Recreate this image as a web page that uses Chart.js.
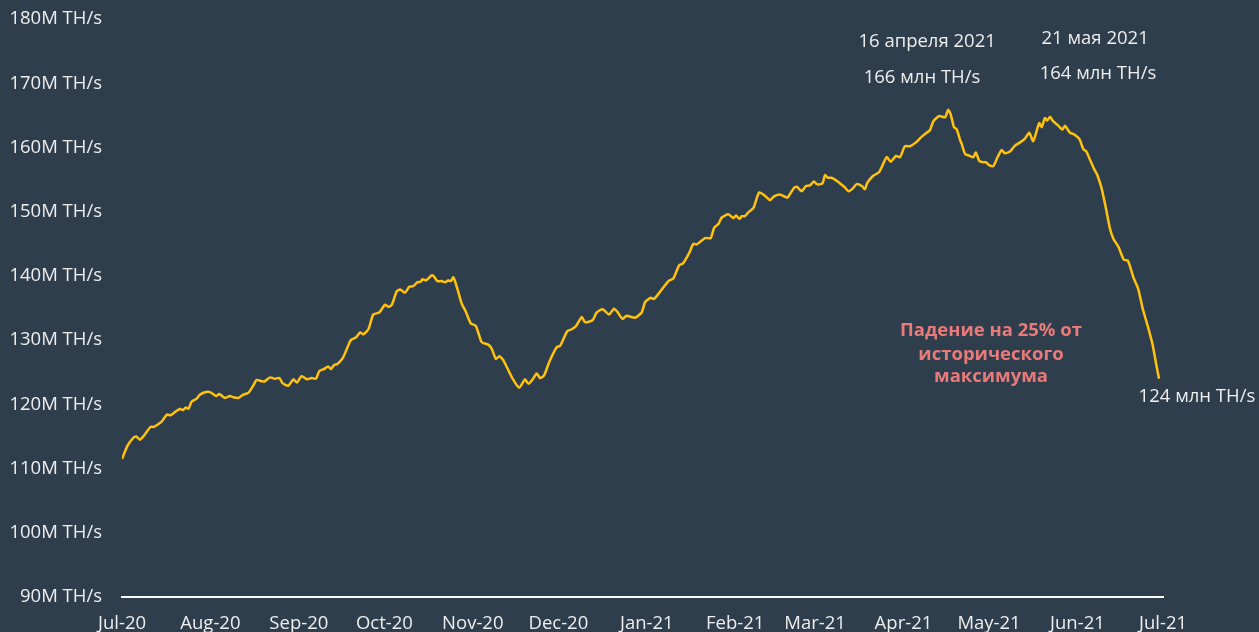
<!DOCTYPE html>
<html>
<head>
<meta charset="utf-8">
<script src="https://cdn.jsdelivr.net/npm/chart.js@4.4.1/dist/chart.umd.min.js"></script>
<style>
  html, body { margin: 0; padding: 0; background: #2f3e4c; overflow: hidden; }
  #clip { width: 1259px; height: 632px; position: relative; overflow: hidden; }
  #wrap { width: 1259px; height: 644px; position: absolute; left: 0; top: -12px; }
</style>
</head>
<body>
<div id="clip"><div id="wrap"><canvas id="c"></canvas></div></div>
<script>
// Days since 1 Jul 2020 (row-aligned with hashrate below)
const days = [
  0,2,4,5,6.3,8,10,11.2,13.9,15.7,
  17,18.6,20.3,21.3,22.4,23.3,24.4,26.2,27.3,29.1,
  30.9,33,34.1,36.1,37.9,39,40.8,42.5,44.3,46,
  47.2,49,50.1,51.9,53.6,55.2,56.3,58.3,60.1,61.3,
  63,64.8,66.5,68,69.2,70.8,72.3,73.3,74.3,75.5,
  77.4,78.8,80.2,82,83.5,84.6,86.4,88.1,90.2,92.2,
  93.4,94.6,96.3,97.5,99.2,100.7,102.1,103.5,104.7,105.4,
  106.6,108.6,109.2,110.6,112.1,113.3,114.4,115.3,116.2,117.6,
  119.1,120.6,122.3,124.1,126.1,128.4,129.6,131.1,132.3,133.7,
  136.6,139.3,141.3,142.5,144,145.4,146.6,148,149.8,152.4,
  153.6,156.1,157.7,159.2,161.2,162.3,165,166.4,168.5,170.8,
  172.5,173.7,175.5,176.9,179.9,182.2,183.4,185.4,186.5,188.6,
  191.6,193.3,195.4,196.6,198.9,200.3,201.5,204.4,206.4,207.6,
  209.1,210.3,212.6,214.4,215.3,216.5,217.3,218.4,219.6,221.4,
  223.4,225.4,227.2,228.6,230.5,231.7,233.3,235.6,236.6,238.3,
  239.8,241.2,242.6,243.6,245,245.7,246.5,247.4,248.8,250,
  251.5,253.2,254.7,256.2,257.6,259.4,260.5,261.3,263.4,265.5,
  268.1,269.5,271.4,272.8,274.5,276.3,278.4,280.4,282.1,283.3,
  284.5,286.6,288.6,289.7,290.6,291.7,292.7,293.9,294.4,295.6,
  297.3,298.5,299.4,300.6,302.2,303,303.9,305.5,306.9,308.4,
  309.6,311.4,313.1,314.9,316.6,318.1,319.5,321.6,322.5,323.6,
  324.4,325.4,326.3,328.3,329.8,330.6,332.4,333.6,335.7,337.1,
  338.1,339.5,340.9,341.9,343.5,345,346.4,347.6,349.4,351.3,
  352.7,354.6,356.3,357.9,359.9,361.4,362.6,363.6
];
// Bitcoin network hashrate, million TH/s
const hashrate = [
  111.5,113.6,114.8,115.0,114.5,115.3,116.5,116.5,117.3,118.4,
  118.3,118.8,119.3,119.1,119.5,119.3,120.4,120.9,121.5,121.9,
  121.9,121.3,121.6,121.0,121.3,121.1,121.0,121.5,121.8,122.9,
  123.8,123.6,123.6,124.2,124.0,124.1,123.3,122.9,123.9,123.4,
  124.4,123.9,124.1,124.0,125.2,125.5,125.9,125.5,126.1,126.3,
  127.2,128.6,130.0,130.4,131.2,130.9,131.7,134.0,134.3,135.5,
  135.2,135.5,137.6,137.9,137.4,138.3,138.4,139.0,139.1,139.5,
  139.3,140.1,140.0,139.2,139.2,139.0,139.3,139.2,139.8,138.0,
  135.7,134.4,132.6,132.2,129.7,129.3,128.7,127.1,127.5,126.9,
  124.3,122.6,123.9,123.2,123.9,124.8,124.1,124.5,126.6,128.9,
  129.1,131.4,131.7,132.2,133.6,132.8,133.1,134.3,134.8,134.0,
  134.9,134.4,133.3,133.8,133.5,134.3,135.9,136.6,136.4,137.5,
  139.2,139.6,141.7,141.9,143.6,145.0,144.9,145.9,145.9,147.5,
  148.1,149.1,149.6,149.0,149.4,148.9,149.3,149.3,149.9,150.6,
  153.0,152.5,151.8,152.4,152.7,152.5,152.2,153.7,153.9,153.2,
  154.0,154.1,154.7,154.3,154.3,154.5,155.7,155.3,155.3,155.0,
  154.5,153.9,153.2,153.6,154.3,154.0,153.5,154.5,155.6,156.2,
  158.5,157.8,158.7,158.5,160.2,160.2,160.8,161.7,162.3,162.7,
  164.1,164.9,164.7,165.9,165.1,163.2,162.8,161.1,160.6,159.0,
  158.7,158.5,159.2,157.9,157.7,157.7,157.3,157.1,158.4,159.6,
  159.1,159.4,160.3,160.8,161.4,162.3,161.0,163.8,163.2,164.6,
  164.2,164.8,164.2,163.4,162.8,163.4,162.3,162.1,161.3,159.7,
  159.4,158.0,156.6,155.8,153.6,150.5,147.4,145.8,144.5,142.5,
  142.4,139.8,138.0,134.9,131.8,129.2,126.3,124.0
];
// X axis ticks (month starts) and their labels
const tickDays = [0,31,62,92,123,153,184,215,243,274,304,335,365];
const tickLabels = ['Jul-20','Aug-20','Sep-20','Oct-20','Nov-20','Dec-20','Jan-21','Feb-21','Mar-21','Apr-21','May-21','Jun-21','Jul-21'];
// Annotation texts
const noteTexts = ['16 апреля 2021','166 млн TH/s','21 мая 2021','164 млн TH/s','Падение на 25% от','исторического','максимума','124 млн TH/s'];

const points = days.map((d, i) => ({ x: d, y: hashrate[i] }));

const noteStyle = [
  { day: 282.3, val: 176.45, bold: false, color: '#eeeeee', size: 18.5 },
  { day: 280.5, val: 170.84, bold: false, color: '#eeeeee', size: 18.5 },
  { day: 341.2, val: 176.9,  bold: false, color: '#eeeeee', size: 18.5 },
  { day: 342.2, val: 171.46, bold: false, color: '#eeeeee', size: 18.5 },
  { day: 304.7, val: 131.43, bold: true,  color: '#e87a7a', size: 18.5 },
  { day: 304.7, val: 127.7,  bold: true,  color: '#e87a7a', size: 18.5 },
  { day: 304.7, val: 124.27, bold: true,  color: '#e87a7a', size: 18.5 },
  { day: 376.9, val: 121.15, bold: false, color: '#eeeeee', size: 18.5 }
];

const bgPlugin = {
  id: 'bg',
  beforeDraw(chart) {
    const ctx = chart.ctx;
    ctx.save();
    ctx.fillStyle = '#2f3e4c';
    ctx.fillRect(0, 0, chart.width, chart.height);
    ctx.restore();
  }
};

const notesPlugin = {
  id: 'notes',
  afterDatasetsDraw(chart) {
    const ctx = chart.ctx;
    const xs = chart.scales.x, ys = chart.scales.y;
    ctx.save();
    ctx.textAlign = 'center';
    ctx.textBaseline = 'middle';
    noteTexts.forEach((t, i) => {
      const s = noteStyle[i];
      ctx.font = (s.bold ? 'bold ' : '') + s.size + 'px "Open Sans"';
      ctx.fillStyle = s.color;
      ctx.fillText(t, xs.getPixelForValue(s.day), ys.getPixelForValue(s.val));
    });
    ctx.restore();
  }
};

new Chart(document.getElementById('c'), {
  type: 'line',
  data: {
    datasets: [{
      data: points,
      borderColor: '#ffc20e',
      borderWidth: 2.5,
      pointRadius: 0,
      tension: 0.2,
      fill: false
    }]
  },
  options: {
    responsive: true,
    maintainAspectRatio: false,
    animation: false,
    layout: { padding: { left: 8, right: 96, top: -6, bottom: 0 } },
    plugins: { legend: { display: false }, tooltip: { enabled: false } },
    scales: {
      x: {
        type: 'linear',
        min: 0, max: 365,
        afterBuildTicks(scale) { scale.ticks = tickDays.map(v => ({ value: v })); },
        afterFit(scale) { scale.height = 35; },
        ticks: {
          autoSkip: false, maxRotation: 0, padding: 16,
          color: '#eeeeee',
          font: { family: 'Open Sans', size: 18.5 },
          callback(v) { const i = tickDays.indexOf(v); return i >= 0 ? tickLabels[i] : ''; }
        },
        grid: { display: false, drawTicks: false },
        border: { display: true, color: '#ffffff', width: 2 }
      },
      y: {
        min: 90, max: 180,
        afterFit(scale) { scale.width = 114; },
        ticks: {
          stepSize: 10, padding: 20,
          color: '#eeeeee',
          font: { family: 'Open Sans', size: 18.5 },
          callback(v) { return v + 'M TH/s'; }
        },
        grid: { display: false, drawTicks: false },
        border: { display: false }
      }
    }
  },
  plugins: [bgPlugin, notesPlugin]
});
</script>
</body>
</html>
